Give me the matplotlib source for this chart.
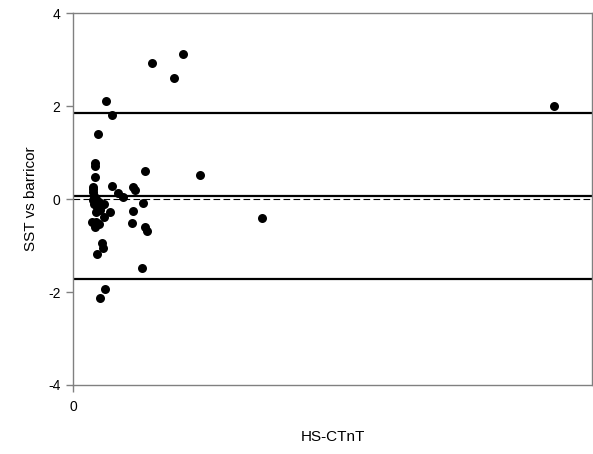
import matplotlib
matplotlib.use("Agg")
import matplotlib.pyplot as plt

plt.rcParams['font.family'] = ['Liberation Sans', 'DejaVu Sans']

# HS-CTnT (x) and SST vs barricor difference (y)
hs_ctnt = [306, 423, 390, 126, 150, 95, 86, 86, 86, 279, 489, 78, 149, 175, 193,
           230, 240, 269, 232, 143, 226, 279, 286, 730, 119, 89, 85, 111, 114, 91,
           265, 123, 104, 1855, 77, 77, 81, 89, 100, 77, 81, 92, 108, 119, 89,
           104, 73, 100]
diff = [2.92, 3.12, 2.61, 2.11, 1.80, 1.40, 0.78, 0.71, 0.48, 0.61, 0.52, 0.21,
        0.29, 0.14, 0.05, 0.26, 0.19, -0.09, -0.26, -0.28, -0.51, -0.60, -0.69,
        -0.40, -0.39, -0.49, -0.60, -0.95, -1.05, -1.19, -1.48, -1.94, -2.12,
        2.01, 0.26, 0.15, 0.06, 0.0, -0.06, -0.02, -0.11, -0.17, -0.15, -0.11,
        -0.28, -0.24, -0.50, -0.54]

mean_diff = 0.065
upper_loa = 1.85
lower_loa = -1.73

fig = plt.figure(figsize=(5.93, 4.54), dpi=100)
ax = fig.add_axes([0.1231, 0.152, 0.8752, 0.819])

ax.scatter(hs_ctnt, diff, s=42, color='black', zorder=3, linewidths=0)

for yv in (upper_loa, mean_diff, lower_loa):
    ax.axhline(yv, color='black', lw=1.6, zorder=2)
ax.axhline(0, color='black', lw=0.8, ls=(0, (6, 3)), zorder=2)

ax.set_xlim(0, 2000)
ax.set_ylim(-4, 4)
ax.set_xticks([0])
ax.set_yticks([-4, -2, 0, 2, 4])
ax.set_yticklabels(['-4', '-2', '0', '2', '4'])

for s in ax.spines.values():
    s.set_color('#808080')
    s.set_linewidth(1.0)
ax.tick_params(axis='both', colors='#808080', labelcolor='black', labelsize=10,
               length=5, width=1.0)
ax.tick_params(axis='x', pad=6)
ax.tick_params(axis='y', pad=4)

ax.set_xlabel('HS-CTnT', fontsize=11, labelpad=11)
ax.set_ylabel('SST vs barricor', fontsize=11, labelpad=7)

fig.savefig('out.png', dpi=100)
